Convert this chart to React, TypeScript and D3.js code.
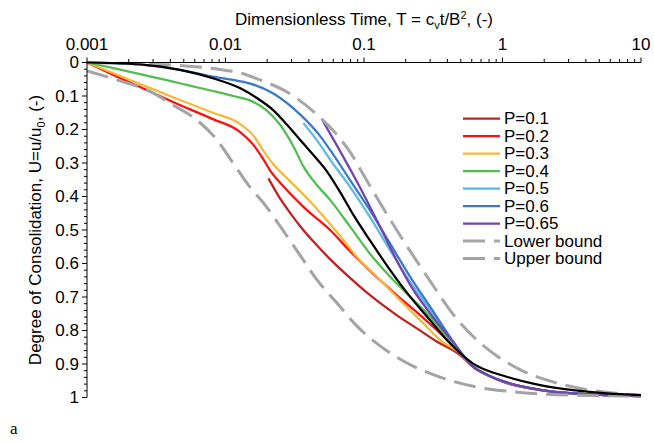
import React from "react";
import * as d3 from "d3";

// ---------- data ----------
const xTickValues = [0.001, 0.01, 0.1, 1, 10];
const xTickLabels = ["0.001", "0.01", "0.1", "1", "10"];
const yTickValues = [0, 0.1, 0.2, 0.3, 0.4, 0.5, 0.6, 0.7, 0.8, 0.9, 1];
const yTickLabels = ["0", "0.1", "0.2", "0.3", "0.4", "0.5", "0.6", "0.7", "0.8", "0.9", "1"];

const T_P01 = [0.0204, 0.0247, 0.030, 0.0345, 0.0455, 0.0569, 0.0793, 0.110, 0.172, 0.239, 0.335, 0.5, 0.6, 0.8, 1.07, 1.87, 3.23, 5.65, 10];
const U_P01 = [0.346, 0.405, 0.455, 0.488, 0.545, 0.587, 0.643, 0.694, 0.754, 0.793, 0.833, 0.875, 0.905, 0.935, 0.956, 0.977, 0.988, 0.993, 0.996];

const T_P02 = [0.001, 0.00155, 0.0027, 0.00469, 0.0081, 0.0127, 0.0159, 0.0185, 0.0209, 0.0261, 0.0365, 0.0569, 0.0793, 0.1167, 0.172, 0.254, 0.335, 0.45, 0.6, 0.8, 1.07, 1.87, 3.23, 5.65, 10];
const U_P02 = [0, 0.037, 0.082, 0.127, 0.169, 0.207, 0.246, 0.285, 0.321, 0.369, 0.431, 0.5, 0.563, 0.631, 0.694, 0.754, 0.798, 0.85, 0.905, 0.936, 0.957, 0.978, 0.988, 0.993, 0.996];

const T_P03 = [0.001, 0.00155, 0.0027, 0.00469, 0.0081, 0.0127, 0.0159, 0.0187, 0.0221, 0.0292, 0.0407, 0.0569, 0.071, 0.0886, 0.1306, 0.192, 0.267, 0.354, 0.5, 0.6, 0.8, 1.07, 1.87, 3.23, 5.65, 10];
const U_P03 = [0, 0.032, 0.072, 0.112, 0.15, 0.183, 0.218, 0.262, 0.303, 0.354, 0.414, 0.482, 0.53, 0.58, 0.649, 0.719, 0.778, 0.828, 0.87, 0.903, 0.935, 0.955, 0.977, 0.988, 0.993, 0.996];

const T_P04 = [0.001, 0.00155, 0.0027, 0.00469, 0.0081, 0.0127, 0.015, 0.0198, 0.0247, 0.0309, 0.0365, 0.0455, 0.0569, 0.0793, 0.110, 0.154, 0.215, 0.30, 0.394, 0.6, 0.8, 1.07, 1.87, 3.23, 5.65, 10];
const U_P04 = [0, 0.017, 0.039, 0.062, 0.085, 0.105, 0.113, 0.143, 0.185, 0.25, 0.31, 0.365, 0.41, 0.49, 0.57, 0.639, 0.699, 0.759, 0.818, 0.905, 0.935, 0.955, 0.977, 0.988, 0.993, 0.996];

const T_P05 = [0.0365, 0.0481, 0.0569, 0.0793, 0.110, 0.154, 0.215, 0.30, 0.467, 0.6, 0.8, 1.07, 1.87, 3.23, 5.65, 10];
const U_P05 = [0.181, 0.245, 0.29, 0.371, 0.46, 0.56, 0.655, 0.738, 0.852, 0.905, 0.935, 0.955, 0.977, 0.988, 0.993, 0.996];

const T_P06 = [0.001, 0.0027, 0.00469, 0.0081, 0.0121, 0.0142, 0.022, 0.0345, 0.0481, 0.0569, 0.0793, 0.110, 0.154, 0.215, 0.30, 0.467, 0.6, 0.8, 1.07, 1.87, 3.23, 5.65, 10];
const U_P06 = [0, 0.0075, 0.022, 0.042, 0.054, 0.06, 0.092, 0.155, 0.219, 0.261, 0.351, 0.44, 0.54, 0.639, 0.729, 0.848, 0.905, 0.935, 0.955, 0.977, 0.988, 0.993, 0.996];

const T_P065 = [0.0496, 0.0652, 0.0984, 0.1306, 0.172, 0.227, 0.30, 0.467, 0.6, 0.8, 1.07, 1.87, 3.23, 5.65, 10];
const U_P065 = [0.169, 0.255, 0.39, 0.49, 0.59, 0.679, 0.749, 0.848, 0.905, 0.935, 0.955, 0.977, 0.988, 0.993, 0.996];

const T_BLACK = [0.001, 0.0027, 0.00469, 0.0081, 0.0128, 0.0177, 0.0221, 0.0277, 0.0365, 0.045, 0.0538, 0.0671, 0.0838, 0.110, 0.154, 0.215, 0.30, 0.40, 0.61, 1.07, 1.87, 3.23, 5.65, 10];
const U_BLACK = [0, 0.0075, 0.022, 0.047, 0.077, 0.112, 0.142, 0.185, 0.242, 0.285, 0.324, 0.386, 0.455, 0.53, 0.619, 0.699, 0.769, 0.83, 0.898, 0.938, 0.963, 0.978, 0.988, 0.993];

const T_LOWER = [0.001, 0.00241, 0.00469, 0.00913, 0.01273, 0.01775, 0.0278, 0.0428, 0.0638, 0.0792, 0.0984, 0.1305, 0.1912, 0.2996, 0.4391, 0.688, 0.9127, 1.406, 2.475, 4.282, 10];
const U_LOWER = [0, 0.0045, 0.009, 0.021, 0.031, 0.052, 0.088, 0.145, 0.216, 0.267, 0.333, 0.419, 0.53, 0.652, 0.751, 0.837, 0.876, 0.921, 0.957, 0.978, 0.993];

const T_UPPER = [0.001, 0.00173, 0.00271, 0.00418, 0.00622, 0.00868, 0.01133, 0.01503, 0.01929, 0.02474, 0.0345, 0.0458, 0.0638, 0.089, 0.1305, 0.2044, 0.3537, 0.6546, 1.078, 3.228, 10];
const U_UPPER = [0.025, 0.055, 0.082, 0.127, 0.172, 0.231, 0.300, 0.372, 0.425, 0.488, 0.575, 0.649, 0.718, 0.787, 0.846, 0.897, 0.939, 0.969, 0.981, 0.993, 0.996];

const seriesNames = ["P=0.1", "P=0.2", "P=0.3", "P=0.4", "P=0.5", "P=0.6", "P=0.65", "Lower bound", "Upper bound"];
const seriesColors = ["#C0211F", "#FF1010", "#F4B939", "#50BE50", "#5BB9EA", "#3B78C6", "#7443B0", "#A6A6A6", "#A3A3A3"];
const seriesT = [T_P01, T_P02, T_P03, T_P04, T_P05, T_P06, T_P065, T_LOWER, T_UPPER];
const seriesU = [U_P01, U_P02, U_P03, U_P04, U_P05, U_P06, U_P065, U_LOWER, U_UPPER];

// ---------- layout ----------
const W = 654;
const H = 443;
const X0 = 87, X1 = 641, Y0 = 62.5, Y1 = 397.5;
const FONT = "'Liberation Sans', Arial, sans-serif";
const FS = 17;

export default function App() {
  const x = d3.scaleLog().domain([0.001, 10]).range([X0, X1]);
  const y = d3.scaleLinear().domain([0, 1]).range([Y0, Y1]);
  const line = d3
    .line<[number, number]>()
    .x((d) => x(d[0]))
    .y((d) => y(d[1]))
    .curve(d3.curveMonotoneX);

  const minorX = x.ticks().filter((t) => !xTickValues.some((v) => Math.abs(v - t) / v < 1e-6));
  const minorY = d3.range(0, 1.0001, 0.02).filter((v) => Math.abs(v * 10 - Math.round(v * 10)) > 1e-6);

  const paths = seriesNames.map((name, i) => ({
    name,
    color: seriesColors[i],
    dashed: name.includes("bound"),
    d: line(seriesT[i].map((t, k) => [t, seriesU[i][k]] as [number, number])) || "",
  }));
  const blackD = line(T_BLACK.map((t, k) => [t, U_BLACK[k]] as [number, number])) || "";

  const legendX = 463, legendY = 118.5, legendDy = 17.5;

  return (
    <div style={{ position: "absolute", left: 0, top: 0 }}>
      <svg width={W} height={H} style={{ display: "block", background: "#fff" }} fontFamily={FONT}>
        <rect x={0} y={0} width={W} height={H} fill="#fff" />
        {/* title */}
        <text x={(X0 + X1) / 2} y={25} fontSize={FS} textAnchor="middle" fill="#000">
          Dimensionless Time, T = c
          <tspan fontSize={11} dy={4}>v</tspan>
          <tspan dy={-4}>t/B</tspan>
          <tspan fontSize={11} dy={-6}>2</tspan>
          <tspan dy={6}>, (-)</tspan>
        </text>
        {/* y title */}
        <text transform={`translate(41, ${(Y0 + Y1) / 2}) rotate(-90)`} fontSize={FS} textAnchor="middle" fill="#000">
          Degree of Consolidation, U=u/u
          <tspan fontSize={11} dy={4}>0</tspan>
          <tspan dy={-4}>, (-)</tspan>
        </text>

        {/* series */}
        {paths.filter((p) => !p.dashed).map((p) => (
          <path key={p.name} d={p.d} fill="none" stroke={p.color} strokeWidth={2.25} />
        ))}
        {paths.filter((p) => p.dashed).map((p) => (
          <path key={p.name} d={p.d} fill="none" stroke={p.color} strokeWidth={3} strokeDasharray="22,9" />
        ))}
        <path d={blackD} fill="none" stroke="#000" strokeWidth={2.25} />

        {/* axes */}
        <line x1={X0} x2={X1} y1={Y0} y2={Y0} stroke="#000" strokeWidth={1} />
        <line x1={X0} x2={X0} y1={Y0} y2={Y1} stroke="#000" strokeWidth={1} />
        {xTickValues.map((v, i) => (
          <g key={"xt" + i}>
            <line x1={x(v)} x2={x(v)} y1={Y0} y2={Y0 - 5} stroke="#000" />
            <text x={x(v)} y={50} fontSize={FS} textAnchor="middle" fill="#000">{xTickLabels[i]}</text>
          </g>
        ))}
        {minorX.map((v, i) => (
          <line key={"xm" + i} x1={x(v)} x2={x(v)} y1={Y0} y2={Y0 - 3.5} stroke="#000" />
        ))}
        {yTickValues.map((v, i) => (
          <g key={"yt" + i}>
            <line x1={X0 - 5} x2={X0} y1={y(v)} y2={y(v)} stroke="#000" />
            <text x={79} y={y(v)} dy="0.35em" fontSize={FS} textAnchor="end" fill="#000">{yTickLabels[i]}</text>
          </g>
        ))}
        {minorY.map((v, i) => (
          <line key={"ym" + i} x1={X0 - 3} x2={X0} y1={y(v)} y2={y(v)} stroke="#000" />
        ))}

        {/* legend */}
        {paths.map((p, i) => (
          <g key={"lg" + i} transform={`translate(0, ${legendY + i * legendDy})`}>
            {p.dashed ? (
              <line x1={legendX} x2={legendX + 37} y1={0} y2={0} stroke={p.color} strokeWidth={3} strokeDasharray="22,9" />
            ) : (
              <line x1={legendX} x2={legendX + 37} y1={0} y2={0} stroke={p.color} strokeWidth={2.25} />
            )}
            <text x={legendX + 41} y={0} dy="0.35em" fontSize={FS} fill="#000">{p.name}</text>
          </g>
        ))}

        <text x={10} y={434} fontSize={17} fontFamily="'Liberation Serif', 'Times New Roman', serif" fill="#000">a</text>
      </svg>
    </div>
  );
}
